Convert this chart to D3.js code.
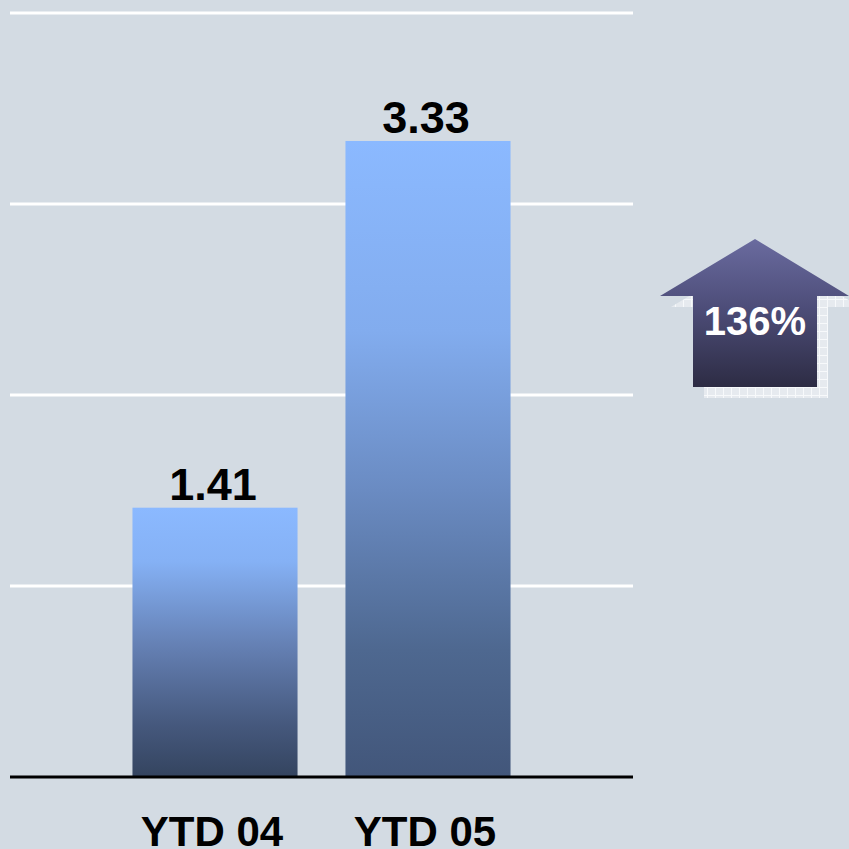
<!DOCTYPE html>
<html>
<head>
<meta charset="utf-8">
<script src="https://cdn.jsdelivr.net/npm/d3@7"></script>
<style>
	html, body { margin: 0; padding: 0; background: #d3dbe3; overflow: hidden; }
	svg { display: block; font-family: 'Liberation Sans', Arial, sans-serif; }
</style>
</head>
<body>
<div id="chart"></div>
<script>
// data
const categories = [ 'YTD 04', 'YTD 05' ];
const values = [ 1.41, 3.33 ];
const valueLabels = [ '1.41', '3.33' ];
const gridTicks = [ 1, 2, 3, 4 ];
const changeLabel = '136%';

const width = 849,
	height = 849;

const svg = d3.select('#chart').append('svg').attr('width', width).attr('height', height);

svg.append('rect').attr('width', width).attr('height', height).attr('fill', '#d3dbe3');

const defs = svg.append('defs');

// bar gradients
const barStops = [
	[ [ 0, '#8bb9ff' ], [ 0.2, '#85b1f5' ], [ 0.5, '#6682b6' ], [ 0.8, '#46597e' ], [ 1, '#34445f' ] ],
	[ [ 0, '#8bb9ff' ], [ 0.3, '#82acee' ], [ 0.55, '#6a8bc2' ], [ 0.8, '#4e6890' ], [ 1, '#42567a' ] ]
];
barStops.forEach(function(stops, i) {
	const g = defs.append('linearGradient').attr('id', 'bar-grad-' + i).attr('x1', 0).attr('y1', 0).attr('x2', 0).attr('y2', 1);
	stops.forEach(function(s) {
		g.append('stop').attr('offset', s[0]).attr('stop-color', s[1]);
	});
});

const arrowGrad = defs.append('linearGradient').attr('id', 'arrow-grad').attr('x1', 0).attr('y1', 0).attr('x2', 0).attr('y2', 1);
arrowGrad.append('stop').attr('offset', 0).attr('stop-color', '#6a6b9f');
arrowGrad.append('stop').attr('offset', 0.45).attr('stop-color', '#4e4e7a');
arrowGrad.append('stop').attr('offset', 1).attr('stop-color', '#2d2c44');

// light gridded shadow texture
const pat = defs.append('pattern').attr('id', 'shadow-pat').attr('width', 8).attr('height', 8).attr('patternUnits', 'userSpaceOnUse');
pat.append('rect').attr('width', 8).attr('height', 8).attr('fill', '#e6eaef');
pat.append('path').attr('d', 'M0,0.5H8M0.5,0V8').attr('stroke', '#f7f9fb').attr('stroke-width', 1);

// scales
const y = d3.scaleLinear().domain([ 0, 4 ]).range([ 777, 13 ]);
const x = d3.scaleBand().domain(categories).range([ 10, 633 ]).paddingInner(0.225).paddingOuter(0.575);

// gridlines
svg
	.append('g')
	.selectAll('line')
	.data(gridTicks)
	.enter()
	.append('line')
	.attr('x1', 10)
	.attr('x2', 633)
	.attr('y1', (d) => y(d))
	.attr('y2', (d) => y(d))
	.attr('stroke', '#ffffff')
	.attr('stroke-width', 3);

// bars
svg
	.append('g')
	.selectAll('rect')
	.data(values)
	.enter()
	.append('rect')
	.attr('x', (d, i) => x(categories[i]))
	.attr('y', (d) => y(d))
	.attr('width', x.bandwidth())
	.attr('height', (d) => y(0) - y(d))
	.attr('fill', (d, i) => 'url(#bar-grad-' + i + ')');

// baseline
svg
	.append('line')
	.attr('x1', 10)
	.attr('x2', 633)
	.attr('y1', y(0))
	.attr('y2', y(0))
	.attr('stroke', '#000')
	.attr('stroke-width', 3);

// value labels
svg
	.append('g')
	.selectAll('text')
	.data(values)
	.enter()
	.append('text')
	.attr('x', (d, i) => x(categories[i]) + x.bandwidth() / 2 - 2)
	.attr('y', (d) => y(d) - 8)
	.attr('text-anchor', 'middle')
	.attr('font-size', 45)
	.attr('font-weight', 'bold')
	.attr('fill', '#000')
	.text((d, i) => valueLabels[i]);

// category labels
svg
	.append('g')
	.selectAll('text')
	.data(categories)
	.enter()
	.append('text')
	.attr('x', (d) => x(d) + x.bandwidth() / 2 - 3)
	.attr('y', 846)
	.attr('text-anchor', 'middle')
	.attr('font-size', 42)
	.attr('font-weight', 'bold')
	.attr('fill', '#000')
	.text((d) => d);

// change arrow
const arrowPath = 'M755,239 L849,296 L817,296 L817,387 L693,387 L693,296 L660,296 Z';
svg.append('path').attr('d', arrowPath).attr('transform', 'translate(11,11)').attr('fill', 'url(#shadow-pat)');
svg.append('path').attr('d', arrowPath).attr('fill', 'url(#arrow-grad)');
svg
	.append('text')
	.attr('x', 755)
	.attr('y', 335)
	.attr('text-anchor', 'middle')
	.attr('font-size', 40)
	.attr('font-weight', 'bold')
	.attr('fill', '#ffffff')
	.text(changeLabel);
</script>
</body>
</html>
